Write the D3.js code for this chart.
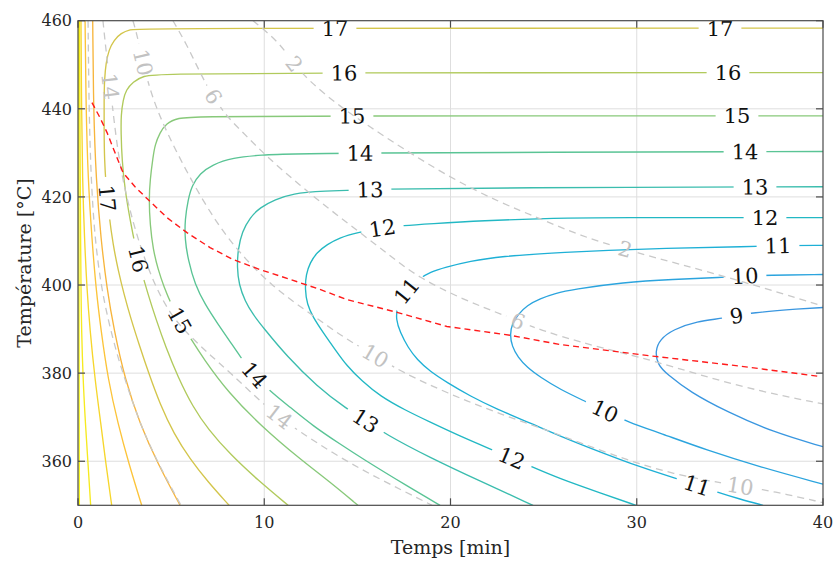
<!DOCTYPE html>
<html><head><meta charset="utf-8">
<script src="https://cdn.jsdelivr.net/npm/d3@7"></script>
<style>
body{margin:0;background:#fff}
svg{display:block}
text{font-family:"DejaVu Serif","Liberation Serif",serif}
</style>
</head><body>
<svg id="chart" width="835" height="564"></svg>
<script>
// ---------------- data ----------------
const xDomain = [0, 40];
const yDomain = [350, 460];
const xTicks = [0, 10, 20, 30, 40];
const yTicks = [360, 380, 400, 420, 440, 460];
const xTitle = "Temps [min]";
const yTitle = "Température [°C]";

// coloured contour levels (t [min], T [°C])
const colorLevels = [9, 10, 11, 12, 13, 14, 15, 16, 17, 18, 19, 20, 21, 22];
const c9  = [[40,394.9],[38.77,394.6],[36.24,393.8],[34.63,392.4],[33.23,391.8],[31.95,389.9],[31.25,387.7],[30.98,385.0],[31.14,381.8],[31.62,379.8],[32.86,375.7],[34.85,371.2],[37.32,366.6],[40,363.3]];
const c10 = [[40,402.4],[36.99,402.2],[35.81,402.1],[34.58,401.7],[31.95,401.3],[29.26,400.6],[26.58,399.0],[25.61,398.1],[24.81,396.9],[24.11,395.4],[23.62,393.3],[23.30,391.1],[23.19,388.8],[23.30,386.1],[23.62,383.6],[24.11,381.3],[24.81,379.1],[25.88,376.3],[27.33,373.4],[28.30,371.4],[29.53,368.9],[31.25,366.4],[33.77,362.5],[36.62,358.7],[40,354.8]];
const c11 = [[40,409.0],[37.69,409.0],[36.24,408.7],[30.71,408.3],[25.88,407.4],[22.66,406.5],[21.05,405.4],[19.70,404.0],[18.90,402.9],[18.36,401.5],[17.83,399.7],[17.40,397.4],[17.13,394.9],[17.07,392.2],[17.29,389.3],[17.72,385.8],[18.20,383.1],[18.90,380.4],[19.81,377.9],[21.05,374.8],[22.50,371.8],[24.27,368.7],[25.88,365.7],[28.03,362.1],[30.17,358.7],[32.16,356.0],[33.23,354.6],[34.31,353.0],[35.54,351.4],[36.78,350.0]];
const c12 = [[40,415.3],[28.03,415.3],[25.88,415.2],[21.58,414.6],[18.90,413.9],[17.45,413.5],[16.32,413.0],[14.98,411.9],[14.07,410.8],[13.37,409.2],[12.83,407.4],[12.46,405.1],[12.24,402.4],[12.19,399.0],[12.30,395.6],[12.62,392.7],[13.15,389.3],[13.80,385.4],[14.44,381.6],[15.25,378.2],[16.21,374.8],[17.56,371.6],[18.90,368.9],[20.51,365.7],[22.12,362.8],[23.30,360.7],[24.38,358.7],[25.88,356.0],[28.03,352.8],[29.96,350.0]];
const c13 = [[40,422.3],[22.66,422.1],[16.21,421.8],[12.99,421.3],[11.54,420.8],[10.58,419.4],[9.77,417.6],[9.23,415.3],[8.81,412.1],[8.59,408.1],[8.54,404.0],[8.64,400.1],[8.97,396.3],[9.40,393.3],[9.93,390.4],[11.22,383.8],[12.83,377.0],[14.44,371.8],[15.52,369.1],[16.48,366.2],[18.90,360.8],[21.58,355.5],[24.43,350.0]];
const c14 = [[40,430.3],[11.92,430.0],[9.77,429.5],[8.32,428.9],[7.19,427.3],[6.55,425.3],[6.12,422.6],[5.91,419.4],[5.74,414.9],[5.74,410.3],[5.91,405.8],[6.28,400.1],[6.82,395.6],[7.52,391.1],[8.16,387.2],[8.70,383.8],[9.40,379.8],[10.31,375.9],[11.38,372.3],[12.62,368.0],[14.07,363.9],[15.30,360.5],[17.66,354.4],[19.44,350.0]];
const c15 = [[40,438.4],[11.92,438.4],[6.55,438.2],[5.32,438.0],[4.72,436.6],[4.40,434.6],[4.13,431.8],[4.03,429.1],[3.87,423.9],[3.81,419.4],[3.87,413.7],[4.03,408.1],[4.30,403.5],[4.62,399.5],[4.99,395.8],[5.42,392.2],[5.96,388.4],[6.77,383.1],[8.05,375.7],[9.88,367.8],[11.92,360.5],[13.53,355.3],[15.03,350.0]];
const c16 = [[40,448.2],[11.92,448.2],[4.40,447.9],[3.49,447.5],[2.95,446.1],[2.58,444.3],[2.42,442.0],[2.31,438.6],[2.31,434.6],[2.36,428.4],[2.52,421.7],[2.79,414.9],[3.11,408.1],[3.38,403.5],[3.76,397.9],[4.19,392.2],[4.72,385.8],[5.37,379.1],[6.17,372.3],[6.98,367.3],[8.16,361.6],[9.66,355.7],[11.28,350.0]];
const c17 = [[40,458.3],[3.33,458.3],[2.79,458.0],[2.31,457.2],[1.93,455.6],[1.66,453.4],[1.50,450.4],[1.42,446.6],[1.40,442.0],[1.40,435.2],[1.42,428.4],[1.50,422.8],[1.66,416.0],[1.88,409.2],[2.15,403.5],[2.47,397.9],[2.85,392.2],[3.28,386.5],[3.81,379.8],[4.40,373.0],[5.15,366.2],[6.01,360.5],[6.98,355.3],[8.11,350.0]];
const c18 = [[0.79,460],[0.83,440.0],[0.97,423.9],[1.23,410.3],[1.56,399.0],[1.93,389.9],[2.52,378.6],[3.33,368.4],[4.30,359.3],[5.48,350.0]];
const c19 = [[0.38,460],[0.43,440.0],[0.54,423.9],[0.75,410.3],[0.97,399.0],[1.23,389.9],[1.61,378.6],[2.15,368.4],[2.74,359.3],[3.42,350.0]];
const c20 = [[0.16,460],[0.19,440.0],[0.24,423.9],[0.35,410.3],[0.48,399.0],[0.64,389.9],[0.91,378.6],[1.23,368.4],[1.50,359.3],[1.81,350.0]];
const c21 = [[0.08,460],[0.10,440.0],[0.12,423.9],[0.14,410.3],[0.16,399.0],[0.19,389.9],[0.27,378.6],[0.40,368.4],[0.54,359.3],[0.68,350.0]];
const c22 = [[0.04,460],[0.05,408.1],[0.07,350.0]];
// label anchors [level, t, T]
const colorLabels = [
  [17,34.47,458.8],[17,13.80,459.0],[17,1.61,419.8],
  [16,34.90,448.4],[16,14.28,448.4],[16,3.11,405.8],
  [15,35.38,439.1],[15,14.71,439.1],[15,5.53,392.2],
  [14,35.81,430.3],[14,15.14,430.3],[14,9.40,379.3],
  [13,36.35,422.6],[13,15.68,422.1],[13,15.52,369.6],
  [12,36.89,415.5],[12,16.32,413.0],[12,23.30,360.5],
  [11,37.58,409.0],[11,17.56,399.0],[11,33.23,354.8],
  [10,35.81,402.2],[10,28.30,371.2],
  [9,35.33,393.1]
];

// grey dashed contour levels
const grayLevels = [2, 6, 10, 14, 18];
const g2  = [[9.40,460],[10.85,454.9],[11.54,450.4],[12.46,446.1],[14.07,440.5],[15.68,435.9],[17.29,431.4],[19.97,424.4],[22.66,418.7],[24.81,415.1],[26.95,411.2],[29.37,408.1],[32.32,404.7],[35.54,401.0],[40,395.2]];
const g6  = [[5.10,460],[5.85,454.5],[6.55,448.2],[7.25,442.7],[8.00,438.2],[9.07,433.7],[10.15,429.1],[11.92,422.6],[13.53,417.1],[15.14,411.9],[16.75,406.7],[18.20,401.9],[20.67,396.7],[23.03,392.9],[24.43,390.4],[25.88,388.4],[28.03,385.8],[30.71,383.1],[35.54,376.8],[40,373.0]];
const g10 = [[2.95,460],[3.17,456.8],[3.49,450.4],[3.87,444.3],[4.30,439.3],[4.78,434.6],[5.85,425.5],[7.46,413.7],[9.07,405.4],[10.47,399.7],[11.76,395.6],[13.37,390.8],[14.60,387.2],[16.05,383.8],[17.29,380.4],[19.97,375.2],[22.66,370.7],[25.50,366.6],[28.56,361.6],[31.95,356.9],[35.54,354.4],[37.32,353.2],[40,350.6]];
const g14 = [[1.34,460],[1.50,453.4],[1.72,445.4],[1.93,437.5],[2.20,428.4],[2.63,419.4],[3.22,410.3],[3.97,401.3],[4.94,393.3],[6.01,388.4],[7.09,384.1],[8.16,380.2],[9.93,373.0],[10.85,370.0],[11.76,367.1],[14.07,360.8],[16.21,355.9],[18.36,351.4],[19.01,350.0]];
const g18 = [[0.54,460],[0.59,440.0],[0.70,423.9],[0.91,410.3],[1.23,400.1],[1.61,392.2],[2.09,384.3],[2.52,378.6],[3.33,368.4],[4.35,359.1],[5.53,350.0]];
const grayLabels = [
  [2,11.54,450.0],[2,29.37,408.1],
  [6,7.25,442.7],[6,23.62,391.8],
  [10,3.49,450.4],[10,16.05,384.3],[10,35.54,354.8],
  [14,1.77,445.2],[14,10.79,370.0]
];

// red dashed optimum curve
const optimum = [[0.75,441.4],[1.18,438.0],[1.56,434.6],[1.99,430.0],[2.42,425.5],[3.06,422.3],[3.76,419.4],[4.78,415.3],[5.85,411.9],[7.09,408.5],[8.32,405.8],[9.77,403.5],[11.38,401.3],[12.99,399.0],[14.44,396.7],[17.13,393.8],[19.81,390.6],[23.19,388.6],[25.88,386.5],[30.98,383.8],[35.54,381.6],[39.73,379.3]];

// ---------------- drawing ----------------
const colorLines = [c9,c10,c11,c12,c13,c14,c15,c16,c17,c18,c19,c20,c21,c22];
const grayLines = [g2,g6,g10,g14,g18];
const levelColors = ["#3a97e0","#2ba4de","#1eb0d6","#22b8c4","#3bbdae","#5ac495","#88c97a","#b1ca5c","#d3c54b","#f7b53c","#fcc43a","#f6d62c","#f6ea20","#f9f90f"];
const colorOf = d3.scaleOrdinal().domain(colorLevels).range(levelColors);

const W = 835, H = 564;
const L = 78, R = 823, T = 20.7, B = 505.3;
const x = d3.scaleLinear().domain(xDomain).range([L, R]);
const y = d3.scaleLinear().domain(yDomain).range([B, T]);
const svg = d3.select("#chart");
svg.append("rect").attr("width", W).attr("height", H).attr("fill", "#fff");
const defs = svg.append("defs");
defs.append("clipPath").attr("id", "plotclip").append("rect")
  .attr("x", L).attr("y", T).attr("width", R - L).attr("height", B - T);

// grid
const grid = svg.append("g").attr("stroke", "#dedede").attr("stroke-width", 1);
xTicks.filter(v => v > xDomain[0] && v < xDomain[1]).forEach(v =>
  grid.append("line").attr("x1", x(v)).attr("x2", x(v)).attr("y1", T).attr("y2", B));
yTicks.filter(v => v > yDomain[0] && v < yDomain[1]).forEach(v =>
  grid.append("line").attr("x1", L).attr("x2", R).attr("y1", y(v)).attr("y2", y(v)));

const line = d3.line().x(d => x(d[0])).y(d => y(d[1])).curve(d3.curveBasis);
const plot = svg.append("g").attr("clip-path", "url(#plotclip)");

function drawSet(levels, lines, opts) {
  const g = plot.append("g");
  const paths = {};
  levels.forEach((lv, i) => {
    paths[lv] = g.append("path").datum(lines[i]).attr("d", line)
      .attr("fill", "none").attr("stroke", opts.color(lv))
      .attr("stroke-width", opts.width)
      .attr("stroke-dasharray", opts.dash || null);
  });
  return {g, paths};
}
function placeLabels(set, labels, opts, layer) {
  const masks = {};
  labels.forEach(lb => {
    const [lv, tt, TT] = lb;
    const p = set.paths[lv].node();
    const len = p.getTotalLength();
    const px = x(tt), py = y(TT);
    let best = 0, bd = Infinity;
    for (let s = 0; s <= len; s += 1) {
      const q = p.getPointAtLength(s);
      const d = (q.x - px) ** 2 + (q.y - py) ** 2;
      if (d < bd) { bd = d; best = s; }
    }
    const c = p.getPointAtLength(best);
    const a = p.getPointAtLength(Math.max(0, best - 6));
    const b = p.getPointAtLength(Math.min(len, best + 6));
    let ang = Math.atan2(b.y - a.y, b.x - a.x) * 180 / Math.PI;
    if (ang > 90) ang -= 180;
    if (ang <= -90) ang += 180;
    const t = layer.append("text")
      .attr("transform", `translate(${c.x},${c.y}) rotate(${ang})`)
      .attr("text-anchor", "middle").attr("dy", "0.36em")
      .attr("font-size", opts.fontSize).attr("fill", opts.textColor)
      .text(String(lv));
    const w = t.node().getComputedTextLength();
    if (!masks[lv]) {
      const m = defs.append("mask").attr("id", opts.prefix + lv)
        .attr("maskUnits", "userSpaceOnUse").attr("x", 0).attr("y", 0)
        .attr("width", W).attr("height", H);
      m.append("rect").attr("width", W).attr("height", H).attr("fill", "#fff");
      masks[lv] = m;
    }
    const gw = w + opts.pad, gh = opts.fontSize * 0.95;
    masks[lv].append("rect")
      .attr("x", -gw / 2).attr("y", -gh / 2).attr("width", gw).attr("height", gh)
      .attr("transform", `translate(${c.x},${c.y}) rotate(${ang})`)
      .attr("fill", "#000");
    set.paths[lv].attr("mask", `url(#${opts.prefix}${lv})`);
  });
}

const colorSet = drawSet(colorLevels, colorLines, {color: colorOf, width: 1.35});
const graySet = drawSet(grayLevels, grayLines, {color: () => "#c9c9c9", width: 1.3, dash: "7,5"});
plot.append("path").datum(optimum).attr("d", d3.line().x(d => x(d[0])).y(d => y(d[1])))
  .attr("fill", "none").attr("stroke", "#ff1a1a").attr("stroke-width", 1.4)
  .attr("stroke-dasharray", "6,4");

const labelLayer = svg.append("g");
placeLabels(graySet, grayLabels, {fontSize: 21, textColor: "#c2c2c2", pad: 12, prefix: "mg"}, labelLayer);
placeLabels(colorSet, colorLabels, {fontSize: 21, textColor: "#111", pad: 16, prefix: "mc"}, labelLayer);

// frame and ticks
const ax = svg.append("g").attr("stroke", "#4a4a4a").attr("stroke-width", 1.2).attr("fill", "none");
ax.append("rect").attr("x", L).attr("y", T).attr("width", R - L).attr("height", B - T);
const tl = 7;
xTicks.forEach(v => {
  ax.append("line").attr("x1", x(v)).attr("x2", x(v)).attr("y1", B).attr("y2", B - tl);
  ax.append("line").attr("x1", x(v)).attr("x2", x(v)).attr("y1", T).attr("y2", T + tl);
});
yTicks.forEach(v => {
  ax.append("line").attr("x1", L).attr("x2", L + tl).attr("y1", y(v)).attr("y2", y(v));
  ax.append("line").attr("x1", R).attr("x2", R - tl).attr("y1", y(v)).attr("y2", y(v));
});
const tk = svg.append("g").attr("font-size", 16).attr("fill", "#262626");
xTicks.forEach(v => tk.append("text").attr("x", x(v)).attr("y", B + 23)
  .attr("text-anchor", "middle").text(v));
yTicks.forEach(v => tk.append("text").attr("x", L - 6).attr("y", y(v)).attr("dy", "0.36em")
  .attr("text-anchor", "end").text(v));
svg.append("text").attr("x", (L + R) / 2).attr("y", 554).attr("text-anchor", "middle")
  .attr("font-size", 19).attr("fill", "#262626").text(xTitle);
svg.append("text").attr("transform", `translate(31,${(T + B) / 2}) rotate(-90)`)
  .attr("text-anchor", "middle").attr("font-size", 19).attr("fill", "#262626").text(yTitle);
</script>
</body></html>
